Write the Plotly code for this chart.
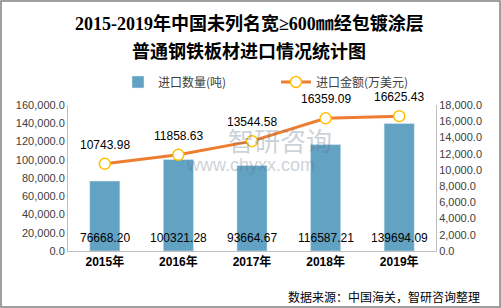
import plotly.graph_objects as go

years = ["2015年", "2016年", "2017年", "2018年", "2019年"]
qty = [76668.20, 100321.28, 93664.67, 116587.21, 139694.09]
amt = [10743.98, 11858.63, 13544.58, 16359.09, 16625.43]
qty_labels = ["76668.20", "100321.28", "93664.67", "116587.21", "139694.09"]
amt_labels = ["10743.98", "11858.63", "13544.58", "16359.09", "16625.43"]

W, H = 501, 308
L, R, T, B = 68, 436, 105, 251
pw, ph = R - L, B - T

def px(x):
    return (x - L) / pw

def py(y):
    return (B - y) / ph

FONT = "Liberation Sans, Arial, Noto Sans CJK SC, sans-serif"
SERIF = "Liberation Serif, Noto Sans CJK SC, serif"

fig = go.Figure()
fig.add_trace(go.Bar(
    x=years, y=qty, name="进口数量(吨)", marker_color="#62A3C4",
    width=0.41, yaxis="y",
))
fig.add_trace(go.Scatter(
    x=years, y=amt, name="进口金额(万美元)", yaxis="y2", mode="lines+markers",
    line=dict(color="#ED7D31", width=3),
    marker=dict(size=11, color="white", line=dict(color="#FFC000", width=1.5)),
))

ann = []
for x, lab in zip(years, qty_labels):
    ann.append(dict(x=x, y=0, xref="x", yref="y", text=lab, showarrow=False,
                    yshift=13, font=dict(size=12, color="black", family=FONT)))
for x, v, lab in zip(years, amt, amt_labels):
    ann.append(dict(x=x, y=v, xref="x", yref="y2", text=lab, showarrow=False,
                    yshift=19, font=dict(size=12, color="black", family=FONT)))

def pann(x, y, text, font, xanchor="center", opacity=1):
    return dict(x=px(x), y=py(y), xref="paper", yref="paper", showarrow=False,
                xanchor=xanchor, yanchor="middle", text=text, font=font, opacity=opacity)

# title
ann.append(pann(249, 23, "<b>2015-2019年中国未列名宽≥600㎜经包镀涂层</b>",
                dict(size=18, color="black", family=SERIF)))
ann.append(pann(249, 51, "<b>普通钢铁板材进口情况统计图</b>",
                dict(size=18, color="black", family=SERIF)))
# watermark
ann.append(pann(280, 139, "智研咨询", dict(size=26, color="#5a6f80", family="Noto Sans CJK SC"),
                opacity=0.3))
ann.append(pann(250, 165, "www.chyxx.com", dict(size=18, color="#5a6f80", family=FONT),
                opacity=0.3))
# source
ann.append(pann(482, 296, "数据来源：中国海关，智研咨询整理",
                dict(size=12, color="black", family="Noto Sans CJK SC"), xanchor="right"))

fig.update_layout(
    width=W, height=H,
    margin=dict(l=L, r=W - R, t=T, b=H - B),
    paper_bgcolor="white", plot_bgcolor="white",
    showlegend=True,
    legend=dict(orientation="h", x=px(276), y=py(82), xanchor="center", yanchor="middle",
                font=dict(size=12, color="#404040", family="Noto Sans CJK SC"),
                itemwidth=30, entrywidth=113, tracegroupgap=0, bgcolor="rgba(0,0,0,0)"),
    xaxis=dict(showline=True, linecolor="#BFBFBF", linewidth=1, ticks="",
               tickfont=dict(size=12, color="black", family=FONT),
               tickvals=years, ticktext=["<b>%s</b>" % y for y in years]),
    yaxis=dict(range=[0, 160000], dtick=20000, tickformat=",.1f", showgrid=False,
               showline=True, linecolor="#BFBFBF", zeroline=False,
               tickfont=dict(size=11, color="#404040", family=FONT)),
    yaxis2=dict(range=[0, 18000], dtick=2000, tickformat=",.1f", showgrid=False,
                overlaying="y", side="right", showline=True, linecolor="#BFBFBF",
                zeroline=False, tickfont=dict(size=11, color="#404040", family=FONT)),
    annotations=ann,
    shapes=[dict(type="rect", xref="paper", yref="paper",
                 x0=px(1), x1=px(500), y0=py(307), y1=py(1),
                 line=dict(color="#808080", width=1.5))],
)

fig.write_html("out.html")
